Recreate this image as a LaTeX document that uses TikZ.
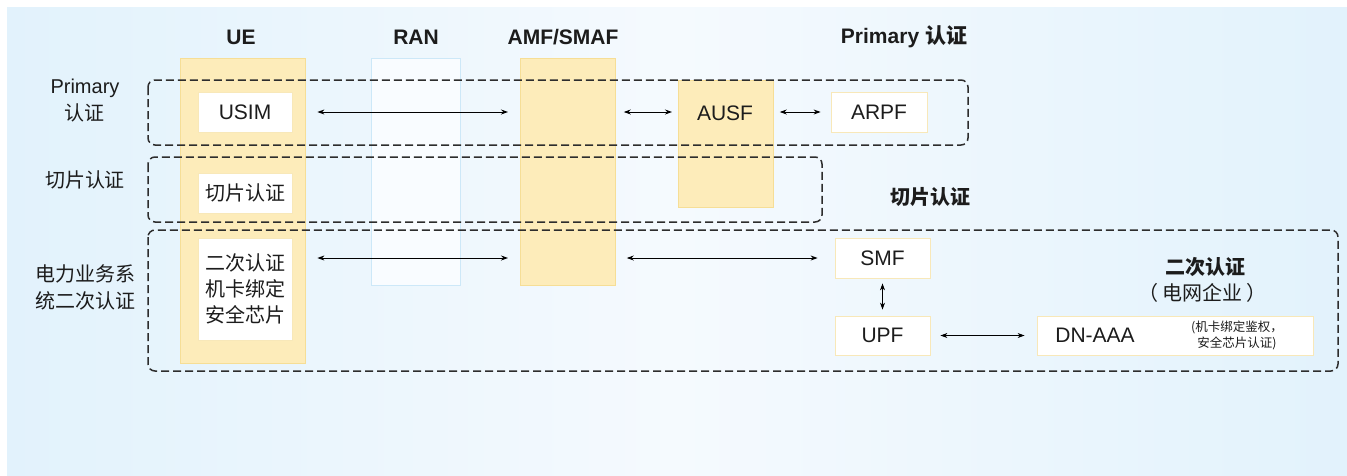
\documentclass[tikz,border=0pt]{standalone}
\usepackage{fontspec}
\setmainfont{Liberation Sans}
\newfontfamily\cjk{Noto Sans CJK SC}
\usetikzlibrary{arrows.meta}
\definecolor{bgblue}{RGB}{226,242,252}
\definecolor{bglight}{RGB}{245,250,254}
\definecolor{colfill}{RGB}{253,236,186}
\definecolor{colline}{RGB}{246,222,150}
\definecolor{ranfill}{RGB}{249,252,255}
\definecolor{ranline}{RGB}{205,232,248}
\definecolor{boxline}{RGB}{248,232,185}
\definecolor{dashgray}{RGB}{45,45,45}
\definecolor{txt}{RGB}{28,28,28}
\tikzset{
    column/.style={draw=colline, fill=colfill, line width=0.8pt, inner sep=0pt, anchor=north west},
    rancol/.style={draw=ranline, fill=ranfill, line width=0.8pt, inner sep=0pt, anchor=north west},
    nfbox/.style={draw=boxline, fill=white, line width=0.8pt, inner sep=0pt, minimum width=94pt, minimum height=40pt, text=txt, font=\fontsize{21}{26}\selectfont},
    authzone/.style={draw=dashgray, dash pattern=on 8pt off 4pt, line width=1.5pt, rounded corners=7pt},
    header/.style={font=\fontsize{21}{26}\selectfont\bfseries, text=txt},
    rowlabel/.style={font=\fontsize{20}{27}\selectfont, text=txt, align=center},
    link/.style={{Stealth[length=7pt,width=5pt]}-{Stealth[length=7pt,width=5pt]}, line width=0.9pt, black},
}
\begin{document}
\begin{tikzpicture}[x=1pt, y=-1pt]
    \useasboundingbox (0,0) rectangle (1347,475);
    %background
    \fill[left color=bgblue, right color=bgblue, middle color=bglight] (7,7) rectangle (1347,475);
    %column headers
    \node[header] (hue) at (241,37) {UE};
    \node[header] (hran) at (416,37) {RAN};
    \node[header] (hamf) at (563,37) {AMF/SMAF};
    \node[header] (hprim) at (904,37) {Primary {\cjk 认证}};
    %columns
    \node[column, minimum width=125pt, minimum height=305pt] (ue) at (180,58) {};
    \node[rancol, minimum width=89pt, minimum height=227pt] (ran) at (371,58) {};
    \node[column, minimum width=95pt, minimum height=227pt] (amf) at (520,58) {};
    \node[column, minimum width=95pt, minimum height=127pt] (ausf) at (678,80) {};
    \node[text=txt, font=\fontsize{21}{26}\selectfont] (ausftxt) at (725,113) {AUSF};
    %authentication zones
    \draw[authzone] (148,80) rectangle (968,145);
    \draw[authzone] (148,157) rectangle (822,222);
    \draw[authzone] (148,230) rectangle (1338,371);
    %row labels
    \node[rowlabel] (lprim) at (85,101) {Primary\\{\cjk 认证}};
    \node[rowlabel, font=\fontsize{20}{27}\selectfont\cjk] (lslice) at (85,180) {切片认证};
    \node[rowlabel, font=\fontsize{20}{27}\selectfont\cjk] (ltwice) at (85,287) {电力业务系\\统二次认证};
    %network functions
    \node[nfbox] (usim) at (245,112) {USIM};
    \node[nfbox, font=\fontsize{20}{26}\selectfont\cjk] (slice) at (245,193) {切片认证};
    \node[nfbox, minimum height=102pt, align=center, font=\fontsize{20}{26}\selectfont\cjk] (twice) at (245,289) {二次认证\\机卡绑定\\安全芯片};
    \node[nfbox, minimum width=96pt] (arpf) at (879,112) {ARPF};
    \node[nfbox, minimum width=95pt] (smf) at (882.5,258) {SMF};
    \node[nfbox, minimum width=95pt, minimum height=39pt] (upf) at (882.5,335.5) {UPF};
    \node[nfbox, minimum width=276pt, minimum height=39pt] (dnaaa) at (1175,335.5) {};
    \node[text=txt, font=\fontsize{21}{26}\selectfont] (dntxt) at (1095,335) {DN-AAA};
    \node[text=txt, align=center, font=\fontsize{12.5}{16}\selectfont\cjk] (dnnote) at (1237,335) {(机卡绑定鉴权，\\安全芯片认证)};
    %zone titles
    \node[header, font=\fontsize{20}{26}\selectfont\cjk\bfseries] (hslice) at (930,197) {切片认证};
    \node[header, font=\fontsize{20}{26}\selectfont\cjk\bfseries] (htwice) at (1205,267) {二次认证};
    \node[rowlabel, font=\fontsize{20}{26}\selectfont\cjk] (htwice2) at (1202,293) {（\kern4pt 电网企业\kern4pt）};
    %links
    \draw[link, shorten <=25pt, shorten >=12pt] (usim.east) -- (usim.east -| amf.west);
    \draw[link, shorten <=8pt, shorten >=6pt] (usim.east -| amf.east) -- (usim.east -| ausf.west);
    \draw[link, shorten <=6pt, shorten >=10pt] (arpf.west -| ausf.east) -- (arpf.west);
    \draw[link, shorten <=25pt, shorten >=12pt] (twice.east |- smf) -- (amf.west |- smf);
    \draw[link, shorten <=11pt, shorten >=17pt] (amf.east |- smf) -- (smf.west);
    \draw[link, shorten <=5pt, shorten >=6pt] (smf.south) -- (upf.north);
    \draw[link, shorten <=10pt, shorten >=12pt] (upf.east) -- (dnaaa.west);
\end{tikzpicture}
\end{document}
